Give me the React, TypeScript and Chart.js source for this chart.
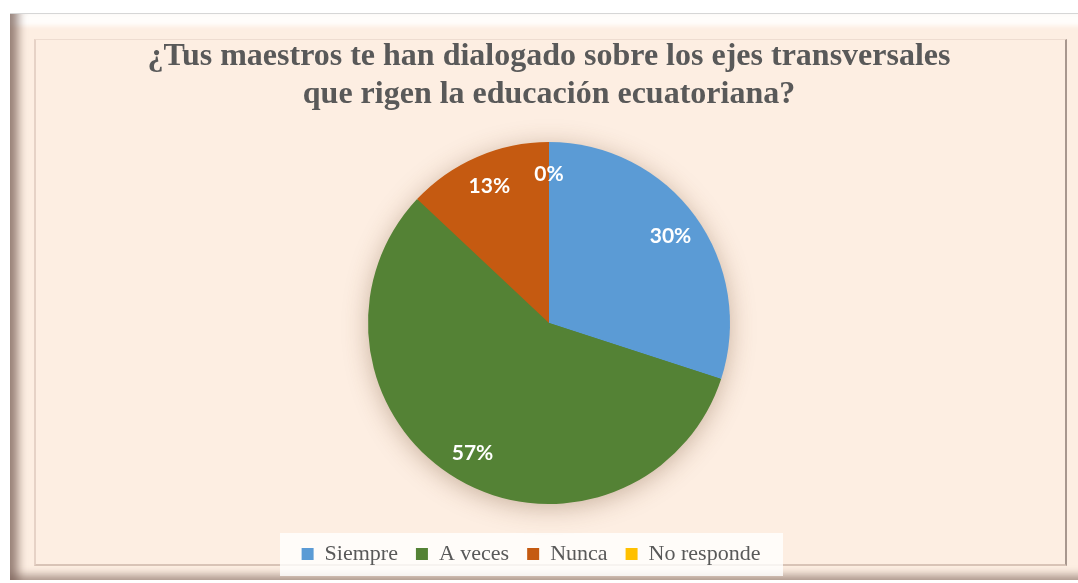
import React, { useEffect, useRef } from "react";
import { Chart, registerables } from "chart.js";

Chart.register(...registerables);

const titleLines = [
  "¿Tus maestros te han dialogado sobre los ejes transversales",
  "que rigen la educación ecuatoriana?",
];
const categories = ["Siempre", "A veces", "Nunca", "No responde"];
const percentages = [30, 57, 13, 0];
const sliceColors = ["#5B9BD5", "#548235", "#C55A11", "#FFC000"];

const pieShadow = {
  id: "pieShadow",
  beforeDatasetsDraw(chart: any) {
    const meta = chart.getDatasetMeta(0);
    const arc = meta.data[0];
    if (!arc) return;
    const { x, y, outerRadius } = arc.getProps(["x", "y", "outerRadius"], true);
    const ctx = chart.ctx;
    ctx.save();
    ctx.shadowColor = "rgba(110,70,40,0.38)";
    ctx.shadowBlur = 26;
    ctx.shadowOffsetX = 0;
    ctx.shadowOffsetY = 4;
    ctx.fillStyle = "#548235";
    ctx.beginPath();
    ctx.arc(x, y, outerRadius - 1, 0, Math.PI * 2);
    ctx.fill();
    ctx.restore();
  },
};

const dataLabels = {
  id: "dataLabels",
  afterDatasetsDraw(chart: any) {
    const ctx = chart.ctx;
    const ds = chart.data.datasets[0];
    const total = ds.data.reduce((a: number, b: number) => a + b, 0);
    const meta = chart.getDatasetMeta(0);
    ctx.save();
    ctx.fillStyle = "#FFFFFF";
    ctx.font = "bold 21px Lato";
    ctx.textAlign = "center";
    ctx.textBaseline = "alphabetic";
    meta.data.forEach((arc: any, i: number) => {
      const { x, y, startAngle, endAngle, outerRadius } = arc.getProps(
        ["x", "y", "startAngle", "endAngle", "outerRadius"],
        true
      );
      const mid = (startAngle + endAngle) / 2;
      const r = outerRadius * 0.83;
      const px = x + Math.cos(mid) * r;
      const py = y + Math.sin(mid) * r;
      const label = Math.round((ds.data[i] / total) * 100) + "%";
      ctx.fillText(label, px, py + 8);
    });
    ctx.restore();
  },
};

const legendShift = {
  id: "legendShift",
  afterLayout(chart: any) {
    const l = chart.legend;
    if (!l) return;
    l.left -= 18;
    l.right -= 18;
  },
};

const legendBg = {
  id: "legendBg",
  beforeDraw(chart: any) {
    const l = chart.legend;
    if (!l) return;
    const ctx = chart.ctx;
    const cx = (l.left + l.right) / 2;
    ctx.save();
    ctx.fillStyle = "rgba(255,255,255,0.8)";
    ctx.fillRect(cx - 251, l.top + 8, 503, 43);
    ctx.restore();
  },
};

export default function App() {
  const canvasRef = useRef<HTMLCanvasElement | null>(null);

  useEffect(() => {
    if (!canvasRef.current) return;
    const chart = new Chart(canvasRef.current, {
      type: "pie",
      data: {
        labels: categories,
        datasets: [
          {
            data: percentages,
            backgroundColor: sliceColors,
            borderWidth: 0,
            radius: 181,
          } as any,
        ],
      },
      options: {
        animation: false,
        responsive: false,
        maintainAspectRatio: false,
        layout: { padding: { top: 20, left: 20, right: 0, bottom: 8 } },
        plugins: {
          title: {
            display: true,
            text: titleLines,
            color: "#595959",
            font: {
              family: "'Liberation Serif', 'Times New Roman', serif",
              size: 32,
              weight: "bold",
              lineHeight: 38 / 32,
            },
            padding: { top: 17.4, bottom: 7.6 },
          },
          legend: {
            display: true,
            position: "bottom",
            labels: {
              boxWidth: 12,
              boxHeight: 12,
              padding: 18,
              color: "#595959",
              font: {
                family: "'Liberation Serif', 'Times New Roman', serif",
                size: 22,
              },
            },
          },
          tooltip: { enabled: false },
        },
      },
      plugins: [legendBg, legendShift, pieShadow, dataLabels],
    });
    return () => chart.destroy();
  }, []);

  return (
    <div
      style={{
        position: "fixed",
        left: 0,
        top: 0,
        width: 1078,
        height: 583,
        background: "#FFFFFF",
        overflow: "hidden",
      }}
    >
      <div
        style={{
          position: "absolute",
          left: 10,
          top: 13,
          width: 1072,
          height: 567,
          boxSizing: "border-box",
          background: "#FDEEE2",
          borderTop: "1px solid #D6D6D6",
          boxShadow:
            "inset 16px 0 10px -8px rgba(120,95,85,0.75), inset 0 -11px 8px -6px rgba(120,95,85,0.6), inset 0 16px 4px -4px rgba(255,255,255,0.85)",
        }}
      />
      <div
        style={{
          position: "absolute",
          left: 34,
          top: 39,
          width: 1033,
          height: 527,
          boxSizing: "border-box",
          background: "#FDEEE2",
          borderTop: "1px solid #EEDCD0",
          borderLeft: "2px solid #E6D2C6",
          borderRight: "2px solid #A8978E",
          borderBottom: "2px solid #D8C3B6",
        }}
      />
      <canvas
        ref={canvasRef}
        width={1078}
        height={583}
        style={{ position: "absolute", left: 0, top: 0, width: 1078, height: 583 }}
      />
    </div>
  );
}
